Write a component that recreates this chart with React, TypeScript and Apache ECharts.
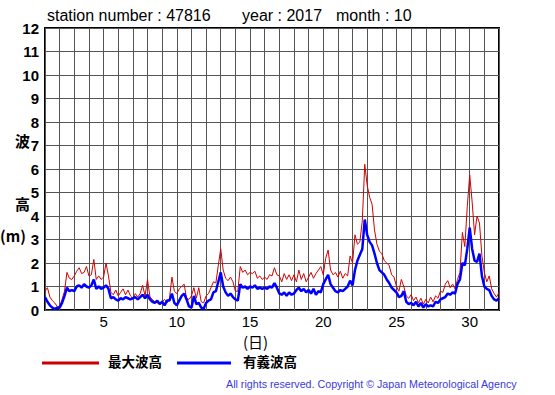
import React, { useEffect, useRef } from "react";
import * as echarts from "echarts";

// 4-hourly samples, starting at day 1.0 (6 per day), ending at day 32.0
const maxWave: number[] = [
  0.8, 0.95, 0.55, 0.4, 0.3, 0.15,
  0.15, 0.45, 0.8, 1.6, 1.35, 1.3,
  1.45, 1.65, 1.8, 1.55, 1.6, 1.85,
  1.45, 1.5, 2.15, 1.3, 1.45, 1.3,
  1.4, 2.0, 1.45, 0.75, 0.65, 0.85,
  0.6, 0.75, 0.9, 0.65, 0.85, 0.6,
  0.5, 0.7, 0.55, 0.7, 1.05, 0.6,
  1.3, 0.55, 0.45, 0.35, 0.3, 0.25,
  0.35, 0.45, 0.3, 0.5, 1.4, 0.8,
  0.7, 0.9, 1.0, 1.1, 0.5, 0.45,
  0.6, 0.95, 0.5, 0.95, 0.35, 0.3,
  0.6, 0.7, 0.95, 1.2, 1.15, 1.9,
  2.6, 1.7, 1.35, 1.25, 1.4, 1.2,
  0.8, 0.8, 1.85, 1.6, 1.7, 1.5,
  1.6, 1.55, 1.65, 1.35, 1.45, 1.3,
  1.4, 1.3, 1.5, 1.45, 1.8, 1.5,
  1.45, 1.2, 1.55, 1.3, 1.5, 1.25,
  1.5, 1.2, 1.7, 1.3, 1.55, 1.2,
  1.4, 1.6, 1.35, 1.55, 1.7, 1.85,
  1.5, 2.2, 2.55, 1.7, 1.5, 1.6,
  1.4, 1.65, 1.35, 1.55, 1.45, 2.3,
  2.0, 3.2, 2.8, 2.9, 3.8, 6.2,
  5.3, 4.8, 4.5, 3.4, 2.8, 2.5,
  2.4, 2.1, 2.0, 1.9, 1.5, 1.4,
  1.0, 0.8, 1.3, 1.0, 0.6, 0.5,
  0.65, 0.4, 0.55, 0.3, 0.5, 0.25,
  0.45, 0.3, 0.55, 0.35, 0.6, 0.5,
  0.8, 0.75, 1.1, 1.25, 0.95, 1.1,
  0.9, 1.3, 1.6, 3.3, 2.7, 4.4,
  5.75, 4.6, 3.2, 4.0, 3.7, 2.3,
  1.6, 1.2, 1.45, 0.9, 0.7, 0.55,
  0.75,
];

const sigWave: number[] = [
  0.55, 0.35, 0.2, 0.1, 0.05, 0.1,
  0.1, 0.3, 0.6, 0.95, 0.8, 0.85,
  0.8, 1.0, 1.05, 0.95, 1.1, 1.0,
  0.95, 1.05, 1.3, 0.9, 1.0, 0.9,
  0.95, 1.05, 0.9, 0.5, 0.55, 0.45,
  0.4, 0.5, 0.45, 0.55, 0.5, 0.45,
  0.5, 0.55, 0.45, 0.55, 0.65, 0.5,
  0.65, 0.45, 0.35, 0.3, 0.4, 0.25,
  0.35, 0.2, 0.4, 0.4, 0.7, 0.3,
  0.2, 0.4, 0.6, 0.7, 0.45, 0.15,
  0.1, 0.6, 0.25, 0.3, 0.1, 0.05,
  0.3, 0.4, 0.45, 0.75, 0.8, 1.2,
  1.6, 1.0, 0.75, 0.6, 0.7, 0.55,
  0.45, 0.4, 1.1, 0.95, 1.0, 0.9,
  1.0, 0.95, 1.05, 0.9, 0.95, 0.9,
  0.95, 0.9, 1.0, 0.95, 1.15, 0.95,
  0.7, 0.65, 0.75, 0.6, 0.75, 0.65,
  0.7, 0.85, 0.95, 0.8, 0.9, 0.75,
  0.85, 0.7, 0.9, 0.65, 0.8, 0.75,
  1.1, 1.3, 1.5, 1.1, 0.95, 0.8,
  0.75, 0.85, 0.8, 0.9, 1.0, 1.25,
  1.05, 1.7, 2.1, 2.35, 2.6, 3.85,
  3.2, 2.9, 2.75, 2.4, 2.0, 1.7,
  1.6, 1.5, 1.3, 1.15, 0.95, 0.85,
  0.75, 0.55, 0.6, 0.8, 0.35, 0.25,
  0.3, 0.2, 0.35, 0.15, 0.3, 0.1,
  0.25, 0.15, 0.2, 0.15, 0.35, 0.3,
  0.45, 0.5, 0.55, 0.7, 0.65, 0.75,
  0.7, 1.1, 1.3, 2.0, 1.9, 2.6,
  3.5, 2.6, 2.1, 2.05, 2.4, 1.45,
  1.0, 0.9, 0.85, 0.6, 0.45, 0.4,
  0.5,
];

const samplesPerDay = 6;
const startDay = 1;
const xTickLabels = [5, 10, 15, 20, 25, 30];
const titleParts = ["station number : 47816", "year : 2017", "month : 10"];
const legendNames = ["最大波高", "有義波高"];

const FONT = "'Liberation Sans', Arial, sans-serif";
const CJK = "'Noto Sans CJK JP', sans-serif";

export default function App() {
  const ref = useRef<HTMLDivElement>(null);

  useEffect(() => {
    if (!ref.current) return;
    const chart = echarts.init(ref.current, null, { renderer: "svg" });
    const toPairs = (arr: number[]) =>
      arr.map((v, i) => [startDay + i / samplesPerDay, v]);

    chart.setOption({
      animation: false,
      backgroundColor: "#fff",
      grid: {
        left: 45,
        right: 56,
        top: 28,
        bottom: 85,
        show: true,
        borderColor: "#000",
        borderWidth: 2,
      },
      xAxis: {
        type: "value",
        min: 1,
        max: 32,
        interval: 1,
        axisLine: { show: false },
        axisTick: { show: false },
        splitLine: { show: true, lineStyle: { color: "#555", width: 1 } },
        axisLabel: {
          color: "#000",
          fontSize: 15,
          lineHeight: 15,
          fontFamily: FONT,
          margin: 4,
          formatter: (v: number) => (xTickLabels.includes(v) ? String(v) : ""),
        },
      },
      yAxis: {
        type: "value",
        min: 0,
        max: 12,
        interval: 1,
        axisLine: { show: false },
        axisTick: { show: false },
        splitLine: { show: true, lineStyle: { color: "#555", width: 1 } },
        axisLabel: {
          color: "#000",
          fontSize: 15,
          fontWeight: "bold",
          fontFamily: FONT,
          margin: 6,
        },
      },
      series: [
        {
          name: legendNames[0],
          type: "line",
          data: toPairs(maxWave),
          showSymbol: false,
          lineStyle: { color: "#d00000", width: 1 },
          z: 3,
        },
        {
          name: legendNames[1],
          type: "line",
          data: toPairs(sigWave),
          showSymbol: false,
          lineStyle: { color: "#0000ff", width: 2.5 },
          z: 4,
        },
      ],
      graphic: [
        { type: "text", left: 47, top: 7, style: { text: titleParts[0], font: `16px ${FONT}`, fill: "#000" } },
        { type: "text", left: 242, top: 7, style: { text: titleParts[1], font: `16px ${FONT}`, fill: "#000" } },
        { type: "text", left: 336, top: 7, style: { text: titleParts[2], font: `16px ${FONT}`, fill: "#000" } },
        { type: "text", left: 15, top: 133, style: { text: "波", font: `bold 15px ${CJK}`, fill: "#000" } },
        { type: "text", left: 15, top: 196, style: { text: "高", font: `bold 15px ${CJK}`, fill: "#000" } },
        { type: "text", left: 0, top: 228, style: { text: "(m)", font: `bold 15px ${CJK}`, fill: "#000" } },
        {
          type: "text",
          x: 243,
          y: 341,
          style: { text: "(日)", font: `15px ${CJK}`, fill: "#000", verticalAlign: "middle", lineHeight: 15 },
        },
        { type: "line", shape: { x1: 42, y1: 363, x2: 99, y2: 363 }, style: { stroke: "#cc0000", lineWidth: 3 } },
        { type: "text", left: 108, top: 354, style: { text: legendNames[0], font: `bold 13.5px ${CJK}`, fill: "#000" } },
        { type: "line", shape: { x1: 177, y1: 363, x2: 231, y2: 363 }, style: { stroke: "#0000ff", lineWidth: 3 } },
        { type: "text", left: 243, top: 354, style: { text: legendNames[1], font: `bold 13.5px ${CJK}`, fill: "#000" } },
        {
          type: "text",
          left: 226,
          top: 378,
          style: {
            text: "All rights reserved. Copyright © Japan Meteorological Agency",
            font: `10.7px ${FONT}`,
            fill: "#3a3ae0",
          },
        },
      ],
    });
    return () => chart.dispose();
  }, []);

  return (
    <div
      ref={ref}
      style={{ position: "fixed", left: 0, top: 0, width: 555, height: 395 }}
    />
  );
}
